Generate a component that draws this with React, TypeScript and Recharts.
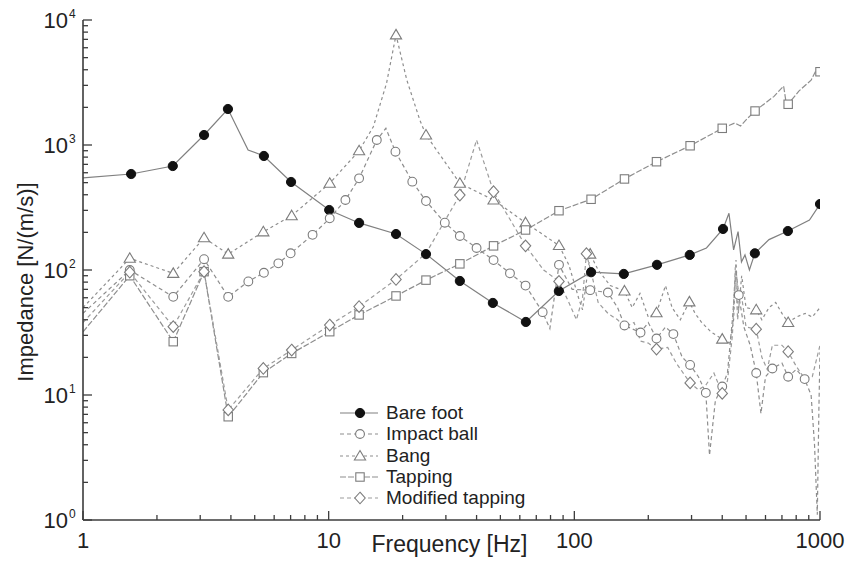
import { LineChart, Line, XAxis, YAxis } from 'recharts'

// [frequency Hz, impedance N/(m/s), 1 = point drawn with a symbol]
type Pt = [number, number, number?]

const bareFoot: Pt[] = [
  [1, 545], [1.57, 586, 1], [2.32, 679, 1], [3.11, 1202, 1], [3.89, 1941, 1], [4.7, 912],
  [5.45, 817, 1], [7.03, 506, 1], [10.05, 302, 1], [13.3, 238, 1], [18.8, 194, 1], [24.9, 134, 1],
  [34.2, 81.7, 1], [46.6, 54.5, 1], [63.5, 38.4, 1], [86.5, 67.9, 1], [117, 96, 1], [159, 93, 1],
  [217, 110, 1], [295, 132, 1], [345, 150], [403, 213, 1], [426, 284], [445, 145], [464, 203],
  [479, 116], [495, 132], [516, 100], [543, 136, 1], [620, 175], [740, 205, 1], [906, 251],
  [1000, 337, 1],
]

const impactBall: Pt[] = [
  [1, 45], [1.55, 100, 1], [2.33, 61, 1], [3.11, 122, 1], [3.9, 61, 1], [4.71, 81, 1], [5.45, 95, 1],
  [6.24, 113, 1], [7.0, 136, 1], [8.6, 191, 1], [10.1, 259, 1], [11.7, 363, 1], [13.3, 541, 1],
  [15.7, 1096, 1], [17.1, 1360], [18.7, 884, 1], [21.9, 509, 1], [24.9, 356, 1], [29.7, 239, 1],
  [34.2, 187, 1], [40, 150, 1], [46.9, 120, 1], [54.7, 94, 1], [63.3, 75, 1], [74.3, 46, 1],
  [79.5, 34], [86.6, 110, 1], [98, 70], [116, 69, 1], [137, 66, 1], [150, 50], [160, 36, 1],
  [186, 31.6, 1], [200, 38], [216, 28.3, 1], [235, 35], [253, 30.7, 1], [275, 20], [296, 17.4, 1],
  [320, 14], [343, 10.4, 1], [355, 3.3], [375, 9], [400, 11.7, 1], [420, 15], [440, 40], [455, 100],
  [467, 63, 1], [490, 35], [520, 25], [550, 15, 1], [575, 7.1], [600, 14], [640, 16.3, 1], [700, 18],
  [742, 14, 1], [800, 16], [866, 13.4, 1], [920, 10], [950, 4], [975, 1.1], [990, 8], [1000, 22],
]

const bang: Pt[] = [
  [1, 50], [1.55, 124, 1], [2.33, 94, 1], [3.11, 181, 1], [3.9, 134, 1], [5.42, 202, 1],
  [7.07, 272, 1], [10.1, 494, 1], [13.3, 900, 1], [15.2, 1400], [17.2, 3115], [18.8, 7600, 1],
  [20.8, 3311], [23.5, 1585], [24.9, 1202, 1], [34.2, 494, 1], [46.9, 363, 1], [63.3, 239, 1],
  [86.6, 157, 1], [95, 110], [104, 60], [108, 48], [116, 134, 1], [125, 100], [140, 75],
  [160, 68, 1], [172, 50], [185, 65], [200, 42], [216, 45.5, 1], [235, 75], [250, 50], [270, 40],
  [294, 55.6, 1], [310, 45], [330, 38], [360, 32], [400, 28, 1], [430, 26], [445, 40], [455, 120],
  [465, 45], [480, 90], [500, 50], [550, 48, 1], [580, 40], [620, 50], [660, 55], [700, 45],
  [742, 38, 1], [800, 42], [870, 45], [930, 42], [1000, 50],
]

const tapping: Pt[] = [
  [1, 32], [1.55, 90, 1], [2.33, 26.7, 1], [3.11, 97, 1], [3.9, 6.7, 1], [5.42, 15.1, 1],
  [7.07, 21.5, 1], [10.1, 32.1, 1], [13.3, 43.7, 1], [18.8, 62, 1], [24.9, 83, 1], [34.2, 112, 1],
  [46.9, 156, 1], [63.3, 209, 1], [86.6, 298, 1], [117, 368, 1], [160, 535, 1], [216, 735, 1],
  [296, 986, 1], [400, 1360, 1], [450, 1500], [475, 1420], [505, 1620], [544, 1870, 1],
  [650, 2450], [711, 2965], [725, 2300], [742, 2118, 1], [820, 2700], [920, 3300], [960, 3900],
  [975, 3650], [1000, 3855, 1],
]

const modifiedTapping: Pt[] = [
  [1, 38], [1.55, 96, 1], [2.33, 35.2, 1], [3.11, 97, 1], [3.9, 7.6, 1], [5.42, 16.3, 1],
  [7.07, 22.9, 1], [10.1, 36.3, 1], [13.3, 51, 1], [18.8, 84, 1], [24.9, 136], [34.2, 398, 1],
  [40, 1096], [46.9, 423, 1], [55, 250], [63.3, 156, 1], [75, 100], [86.6, 81, 1], [95, 55],
  [102, 40], [108, 60], [112, 135, 1], [118, 90], [125, 55], [137, 45], [150, 40], [160, 35],
  [175, 38], [186, 27], [200, 26], [216, 23.3, 1], [240, 24], [260, 18], [296, 12.5, 1], [320, 11],
  [343, 12], [370, 15], [400, 10.3, 1], [420, 13], [440, 30], [452, 105], [462, 40], [475, 70],
  [500, 35], [550, 33.6, 1], [580, 20], [610, 16], [640, 25], [700, 25], [742, 22.2, 1], [800, 17],
  [866, 13.5], [930, 14], [1000, 25],
]

const X_MAJOR = [1, 10, 100, 1000]
const Y_MAJOR = [1, 10, 100, 1000, 10000]
const MINOR_STEPS = [2, 3, 4, 5, 6, 7, 8, 9]

const FONT = '"Liberation Sans", Arial, Helvetica, sans-serif'
const AXIS = '#3c3c3c'
const LINE = '#8e8e8e'
const MARK = '#7c7c7c'

const withMinors = (majors: number[]) =>
  majors.flatMap((m, i) => (i === majors.length - 1 ? [m] : [m, ...MINOR_STEPS.map((s) => m * s)]))

const rows = (pts: Pt[]) => pts.map(([f, v, m]) => ({ f, v, m: m === 1 }))

type Shape = 'dot' | 'circle' | 'triangle' | 'square' | 'diamond'

function Marker({ shape, cx, cy }: { shape: Shape; cx: number; cy: number }) {
  const p = { stroke: MARK, strokeWidth: 1.1, fill: '#fff' }
  switch (shape) {
    case 'dot':
      return <circle cx={cx} cy={cy} r={4.6} fill="#111" stroke="#111" />
    case 'circle':
      return <circle cx={cx} cy={cy} r={4.4} {...p} />
    case 'triangle':
      return <polygon points={`${cx},${cy - 5.5} ${cx + 5.6},${cy + 4} ${cx - 5.6},${cy + 4}`} {...p} />
    case 'square':
      return <rect x={cx - 4.2} y={cy - 4.2} width={8.4} height={8.4} {...p} />
    default:
      return <polygon points={`${cx},${cy - 5.8} ${cx + 5.2},${cy} ${cx},${cy + 5.8} ${cx - 5.2},${cy}`} {...p} />
  }
}

const SERIES: { name: string; data: ReturnType<typeof rows>; shape: Shape; dash?: string; color: string }[] = [
  { name: 'Bare foot', data: rows(bareFoot), shape: 'dot', color: '#808080' },
  { name: 'Impact ball', data: rows(impactBall), shape: 'circle', dash: '4 3', color: LINE },
  { name: 'Bang', data: rows(bang), shape: 'triangle', dash: '3 3', color: LINE },
  { name: 'Tapping', data: rows(tapping), shape: 'square', dash: '6 2', color: LINE },
  { name: 'Modified tapping', data: rows(modifiedTapping), shape: 'diamond', dash: '4 3', color: '#9c9c9c' },
]

function XTick({ x, y, payload }: any) {
  const major = X_MAJOR.includes(payload.value)
  return (
    <g>
      <line x1={x} x2={x} y1={y} y2={y - (major ? 9 : 5)} stroke={AXIS} strokeWidth={1.3} />
      {major && (
        <text x={x} y={y + 28} textAnchor="middle" fontSize={22} fontFamily={FONT} fill="#222">
          {payload.value}
        </text>
      )}
    </g>
  )
}

function YTick({ x, y, payload }: any) {
  const major = Y_MAJOR.includes(payload.value)
  return (
    <g>
      <line x1={x} x2={x + (major ? 9 : 5)} y1={y} y2={y} stroke={AXIS} strokeWidth={1.3} />
      {major && (
        <g fontFamily={FONT} fill="#222">
          <text x={x - 15} y={y + 8} textAnchor="end" fontSize={22}>10</text>
          <text x={x - 14} y={y - 2} fontSize={12}>{Math.round(Math.log10(payload.value))}</text>
        </g>
      )}
    </g>
  )
}

function XLabel({ viewBox }: any) {
  return (
    <text x={viewBox.x + viewBox.width / 2 - 2} y={552} textAnchor="middle" fontSize={23} fontFamily={FONT} fill="#222">
      Frequency [Hz]
    </text>
  )
}

function YLabel() {
  return (
    <text x={33} y={282} transform="rotate(-90 33 282)" textAnchor="middle" fontSize={22} fontFamily={FONT} fill="#222">
      Impedance [N/(m/s)]
    </text>
  )
}

function LegendBox() {
  return (
    <div style={{ position: 'absolute', left: 336, top: 402, fontFamily: FONT, fontSize: 19, color: '#222' }}>
      {SERIES.map((s, i) => (
        <div key={s.name} style={{ position: 'absolute', top: i * 21.3, left: 0, height: 22, whiteSpace: 'nowrap' }}>
          <svg width={48} height={22} style={{ position: 'absolute', left: 0, top: 0 }}>
            <line x1={4} x2={42} y1={11} y2={11} stroke={s.color} strokeWidth={1.2} strokeDasharray={s.dash} />
            <Marker shape={s.shape} cx={24} cy={11} />
          </svg>
          <span style={{ position: 'absolute', left: 50, top: 0, lineHeight: '22px' }}>{s.name}</span>
        </div>
      ))}
    </div>
  )
}

export default function App() {
  return (
    <div style={{ position: 'absolute', left: 0, top: 0, width: 853, height: 565, background: '#fff' }}>
      <LineChart width={853} height={565} margin={{ top: 20, right: 33, bottom: 0, left: 0 }}>
        <XAxis
          dataKey="f"
          type="number"
          scale="log"
          domain={[1, 1000]}
          allowDataOverflow
          ticks={withMinors(X_MAJOR)}
          interval={0}
          tick={<XTick />}
          tickLine={false}
          tickSize={0}
          tickMargin={0}
          height={45}
          axisLine={{ stroke: AXIS, strokeWidth: 1.6 }}
          label={<XLabel />}
        />
        <YAxis
          type="number"
          scale="log"
          domain={[1, 10000]}
          allowDataOverflow
          ticks={withMinors(Y_MAJOR)}
          interval={0}
          tick={<YTick />}
          tickLine={false}
          tickSize={0}
          tickMargin={0}
          width={83}
          axisLine={{ stroke: AXIS, strokeWidth: 1.6 }}
          label={<YLabel />}
        />
        {SERIES.map((s) => (
          <Line
            key={s.name}
            data={s.data}
            dataKey="v"
            name={s.name}
            type="linear"
            stroke={s.color}
            strokeWidth={1.2}
            strokeDasharray={s.dash}
            isAnimationActive={false}
            activeDot={false}
            dot={(p: any) =>
              p.payload.m ? <Marker key={p.index} shape={s.shape} cx={p.cx} cy={p.cy} /> : <g key={p.index} />
            }
          />
        ))}
      </LineChart>
      <LegendBox />
    </div>
  )
}
